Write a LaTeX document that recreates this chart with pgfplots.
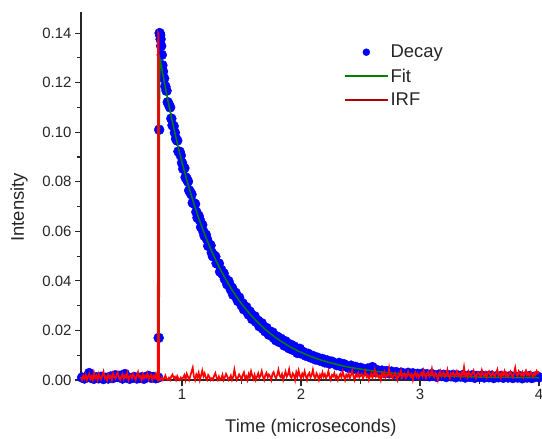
\documentclass[border=0pt]{standalone}
\usepackage{fontspec}
\setmainfont{Liberation Sans}
\usepackage{pgfplots}
\usepackage{pgfplotstable}
\pgfplotsset{compat=1.18}

\pgfplotstableread{
t y
0.16 0.0010
0.18 0.0006
0.20 0.0012
0.22 0.0028
0.24 0.0008
0.26 0.0005
0.28 0.0011
0.30 0.0007
0.32 0.0013
0.34 0.0004
0.36 0.0009
0.38 0.0006
0.40 0.0014
0.42 0.0008
0.44 0.0019
0.46 0.0012
0.48 0.0017
0.50 0.0006
0.52 0.0024
0.54 0.0010
0.56 0.0005
0.58 0.0009
0.60 0.0012
0.62 0.0006
0.64 0.0008
0.66 0.0011
0.68 0.0005
0.70 0.0013
0.72 0.0016
0.74 0.0009
0.76 0.0012
0.78 0.0007
0.800 0.0010
0.804 0.0170
0.808 0.1010
0.812 0.1400
0.816 0.1392
0.820 0.1375
0.825 0.1348
0.830 0.1312
0.835 0.1270
0.84 0.1245
0.85 0.1217
0.86 0.1185
0.87 0.1167
0.88 0.1121
0.89 0.1111
0.90 0.1100
0.91 0.1055
0.92 0.1028
0.93 0.1024
0.94 0.0998
0.95 0.0973
0.96 0.0966
0.97 0.0922
0.98 0.0921
0.99 0.0906
1.00 0.0876
1.01 0.0852
1.02 0.0855
1.03 0.0818
1.04 0.0811
1.05 0.0801
1.06 0.0765
1.07 0.0757
1.08 0.0749
1.09 0.0715
1.10 0.0713
1.11 0.0710
1.12 0.0678
1.13 0.0655
1.14 0.0662
1.15 0.0645
1.16 0.0617
1.17 0.0626
1.18 0.0598
1.19 0.0581
1.20 0.0586
1.21 0.0568
1.22 0.0541
1.23 0.0547
1.24 0.0543
1.25 0.0514
1.26 0.0499
1.27 0.0502
1.28 0.0498
1.29 0.0471
1.30 0.0469
1.31 0.0470
1.32 0.0437
1.33 0.0444
1.34 0.0428
1.35 0.0430
1.36 0.0407
1.37 0.0406
1.38 0.0386
1.39 0.0399
1.40 0.0384
1.41 0.0365
1.42 0.0372
1.43 0.0344
1.44 0.0352
1.45 0.0352
1.46 0.0331
1.47 0.0319
1.48 0.0333
1.49 0.0315
1.50 0.0302
1.51 0.0309
1.52 0.0285
1.53 0.0295
1.54 0.0294
1.55 0.0275
1.56 0.0264
1.57 0.0276
1.58 0.0263
1.59 0.0246
1.60 0.0257
1.61 0.0257
1.62 0.0236
1.63 0.0234
1.64 0.0239
1.65 0.0217
1.66 0.0226
1.67 0.0229
1.68 0.0207
1.69 0.0209
1.70 0.0196
1.71 0.0210
1.72 0.0199
1.73 0.0183
1.74 0.0195
1.75 0.0182
1.76 0.0192
1.77 0.0171
1.78 0.0177
1.79 0.0160
1.80 0.0175
1.81 0.0165
1.82 0.0153
1.83 0.0167
1.84 0.0150
1.85 0.0156
1.86 0.0139
1.87 0.0156
1.88 0.0139
1.89 0.0145
1.90 0.0128
1.91 0.0143
1.92 0.0132
1.93 0.0122
1.94 0.0136
1.95 0.0119
1.96 0.0128
1.97 0.0109
1.98 0.0121
1.99 0.0126
2.00 0.0107
2.02 0.0113
2.04 0.0098
2.06 0.0106
2.08 0.0091
2.10 0.0097
2.12 0.0083
2.14 0.0090
2.16 0.0078
2.18 0.0085
2.20 0.0071
2.22 0.0079
2.24 0.0066
2.26 0.0074
2.28 0.0068
2.30 0.0060
2.32 0.0069
2.34 0.0055
2.36 0.0064
2.38 0.0057
2.40 0.0049
2.42 0.0058
2.44 0.0046
2.46 0.0053
2.48 0.0041
2.50 0.0049
2.52 0.0045
2.54 0.0038
2.56 0.0046
2.58 0.0035
2.60 0.0052
2.62 0.0033
2.64 0.0040
2.66 0.0031
2.68 0.0038
2.70 0.0029
2.72 0.0036
2.74 0.0027
2.76 0.0034
2.78 0.0025
2.80 0.0032
2.82 0.0023
2.84 0.0030
2.86 0.0026
2.88 0.0020
2.90 0.0029
2.92 0.0021
2.94 0.0027
2.96 0.0018
2.98 0.0025
3.00 0.0020
3.02 0.0026
3.04 0.0017
3.06 0.0023
3.08 0.0015
3.10 0.0024
3.12 0.0018
3.14 0.0013
3.16 0.0022
3.18 0.0016
3.20 0.0021
3.22 0.0012
3.24 0.0019
3.26 0.0015
3.28 0.0021
3.30 0.0011
3.32 0.0018
3.34 0.0014
3.36 0.0020
3.38 0.0010
3.40 0.0017
3.42 0.0013
3.44 0.0019
3.46 0.0009
3.48 0.0016
3.50 0.0012
3.52 0.0018
3.54 0.0010
3.56 0.0015
3.58 0.0011
3.60 0.0017
3.62 0.0008
3.64 0.0014
3.66 0.0011
3.68 0.0016
3.70 0.0009
3.72 0.0014
3.74 0.0010
3.76 0.0016
3.78 0.0008
3.80 0.0013
3.82 0.0010
3.84 0.0015
3.86 0.0007
3.88 0.0013
3.90 0.0010
3.92 0.0016
3.94 0.0008
3.96 0.0012
3.98 0.0015
4.00 0.0011
}\decaytable

\pgfplotstableread{
t y
0.790 0.0008
0.808 0.0008
0.810 0.1100
0.814 0.1295
0.82 0.1284
0.84 0.1231
0.86 0.1180
0.88 0.1131
0.90 0.1085
0.92 0.1040
0.94 0.0997
0.96 0.0956
0.98 0.0916
1.00 0.0878
1.02 0.0842
1.04 0.0807
1.06 0.0774
1.08 0.0742
1.10 0.0711
1.12 0.0682
1.14 0.0654
1.16 0.0627
1.18 0.0601
1.20 0.0577
1.22 0.0553
1.24 0.0530
1.26 0.0508
1.28 0.0488
1.30 0.0468
1.32 0.0448
1.34 0.0430
1.36 0.0413
1.38 0.0396
1.40 0.0380
1.42 0.0364
1.44 0.0349
1.46 0.0335
1.48 0.0321
1.50 0.0308
1.52 0.0296
1.54 0.0284
1.56 0.0272
1.58 0.0261
1.60 0.0251
1.62 0.0241
1.64 0.0231
1.66 0.0222
1.68 0.0213
1.70 0.0204
1.72 0.0196
1.74 0.0188
1.76 0.0181
1.78 0.0173
1.80 0.0167
1.82 0.0160
1.84 0.0154
1.86 0.0148
1.88 0.0142
1.90 0.0136
1.92 0.0131
1.94 0.0126
1.96 0.0121
1.98 0.0116
2.00 0.0112
2.05 0.0101
2.10 0.0092
2.15 0.0083
2.20 0.0076
2.25 0.0069
2.30 0.0063
2.35 0.0057
2.40 0.0052
2.45 0.0048
2.50 0.0044
2.60 0.0037
2.70 0.0031
2.80 0.0027
2.90 0.0023
3.00 0.0020
3.20 0.0016
3.40 0.0013
3.60 0.0011
3.80 0.0010
4.00 0.0009
}\fitdata

\pgfplotstableread{
t y
0.15 0.0011
0.16 0.0000
0.17 0.0017
0.18 0.0006
0.19 0.0021
0.20 0.0000
0.21 0.0013
0.22 0.0025
0.23 0.0004
0.24 0.0015
0.25 0.0000
0.26 0.0029
0.27 0.0008
0.28 0.0018
0.29 0.0000
0.30 0.0024
0.31 0.0011
0.32 0.0003
0.33 0.0020
0.34 0.0034
0.35 0.0007
0.36 0.0014
0.37 0.0000
0.38 0.0022
0.39 0.0010
0.40 0.0017
0.41 0.0000
0.42 0.0027
0.43 0.0013
0.44 0.0006
0.45 0.0021
0.46 0.0031
0.47 0.0008
0.48 0.0000
0.49 0.0015
0.50 0.0024
0.51 0.0004
0.52 0.0018
0.53 0.0011
0.54 0.0028
0.55 0.0000
0.56 0.0014
0.57 0.0020
0.58 0.0007
0.59 0.0025
0.60 0.0013
0.61 0.0000
0.62 0.0017
0.63 0.0032
0.64 0.0010
0.65 0.0015
0.66 0.0000
0.67 0.0022
0.68 0.0006
0.69 0.0018
0.70 0.0011
0.71 0.0027
0.72 0.0003
0.73 0.0014
0.74 0.0021
0.75 0.0000
0.76 0.0017
0.77 0.0008
0.78 0.0024
0.79 0.0004
0.796 0.0000
0.799 0.1400
0.803 0.1395
0.806 0.0000
0.81 0.0000
0.82 0.0000
0.83 0.0011
0.84 0.0000
0.85 0.0006
0.86 0.0018
0.87 0.0004
0.88 0.0000
0.89 0.0009
0.90 0.0000
0.91 0.0015
0.92 0.0022
0.93 0.0008
0.94 0.0013
0.95 0.0000
0.96 0.0016
0.97 0.0005
0.98 0.0000
0.99 0.0010
1.00 0.0003
1.01 0.0010
1.02 0.0020
1.03 0.0000
1.04 0.0025
1.05 0.0013
1.06 0.0000
1.07 0.0017
1.08 0.0034
1.09 0.0050
1.10 0.0014
1.11 0.0000
1.12 0.0022
1.13 0.0011
1.14 0.0029
1.15 0.0000
1.16 0.0018
1.17 0.0038
1.18 0.0015
1.19 0.0027
1.20 0.0008
1.21 0.0000
1.22 0.0020
1.23 0.0013
1.24 0.0000
1.25 0.0007
1.26 0.0000
1.27 0.0017
1.28 0.0028
1.29 0.0010
1.30 0.0000
1.31 0.0014
1.32 0.0000
1.33 0.0006
1.34 0.0021
1.35 0.0000
1.36 0.0011
1.37 0.0025
1.38 0.0015
1.39 0.0000
1.40 0.0008
1.41 0.0018
1.42 0.0000
1.43 0.0013
1.44 0.0042
1.45 0.0017
1.46 0.0000
1.47 0.0010
1.48 0.0022
1.49 0.0014
1.50 0.0000
1.51 0.0020
1.52 0.0031
1.53 0.0007
1.54 0.0015
1.55 0.0000
1.56 0.0024
1.57 0.0011
1.58 0.0035
1.59 0.0017
1.60 0.0004
1.61 0.0021
1.62 0.0000
1.63 0.0014
1.64 0.0027
1.65 0.0008
1.66 0.0018
1.67 0.0036
1.68 0.0013
1.69 0.0000
1.70 0.0020
1.71 0.0029
1.72 0.0010
1.73 0.0022
1.74 0.0015
1.75 0.0000
1.76 0.0025
1.77 0.0032
1.78 0.0014
1.79 0.0007
1.80 0.0021
1.81 0.0041
1.82 0.0017
1.83 0.0011
1.84 0.0024
1.85 0.0000
1.86 0.0018
1.87 0.0034
1.88 0.0013
1.89 0.0022
1.90 0.0043
1.91 0.0015
1.92 0.0008
1.93 0.0027
1.94 0.0020
1.95 0.0000
1.96 0.0031
1.97 0.0014
1.98 0.0038
1.99 0.0018
2.00 0.0007
2.01 0.0025
2.02 0.0013
2.03 0.0035
2.04 0.0017
2.05 0.0000
2.06 0.0022
2.07 0.0029
2.08 0.0010
2.09 0.0020
2.10 0.0042
2.11 0.0015
2.12 0.0006
2.13 0.0027
2.14 0.0018
2.15 0.0000
2.16 0.0021
2.17 0.0011
2.18 0.0031
2.19 0.0014
2.20 0.0024
2.21 0.0007
2.22 0.0017
2.23 0.0036
2.24 0.0013
2.25 0.0000
2.26 0.0020
2.27 0.0015
2.28 0.0028
2.29 0.0008
2.30 0.0018
2.31 0.0000
2.32 0.0014
2.33 0.0024
2.34 0.0011
2.35 0.0034
2.36 0.0017
2.37 0.0000
2.38 0.0021
2.39 0.0013
2.40 0.0027
2.41 0.0007
2.42 0.0020
2.43 0.0039
2.44 0.0015
2.45 0.0000
2.46 0.0022
2.47 0.0014
2.48 0.0029
2.49 0.0010
2.50 0.0018
2.51 0.0025
2.52 0.0006
2.53 0.0017
2.54 0.0035
2.55 0.0013
2.56 0.0021
2.57 0.0000
2.58 0.0015
2.59 0.0028
2.60 0.0008
2.61 0.0020
2.62 0.0042
2.63 0.0014
2.64 0.0024
2.65 0.0011
2.66 0.0018
2.67 0.0000
2.68 0.0027
2.69 0.0015
2.70 0.0032
2.71 0.0010
2.72 0.0021
2.73 0.0017
2.74 0.0048
2.75 0.0013
2.76 0.0022
2.77 0.0007
2.78 0.0018
2.79 0.0029
2.80 0.0014
2.81 0.0000
2.82 0.0025
2.83 0.0017
2.84 0.0036
2.85 0.0011
2.86 0.0020
2.87 0.0027
2.88 0.0008
2.89 0.0015
2.90 0.0034
2.91 0.0018
2.92 0.0013
2.93 0.0024
2.94 0.0000
2.95 0.0021
2.96 0.0031
2.97 0.0014
2.98 0.0025
2.99 0.0010
3.00 0.0020
3.01 0.0028
3.02 0.0015
3.03 0.0038
3.04 0.0020
3.05 0.0008
3.06 0.0027
3.07 0.0034
3.08 0.0014
3.09 0.0022
3.10 0.0045
3.11 0.0018
3.12 0.0011
3.13 0.0029
3.14 0.0021
3.15 0.0000
3.16 0.0025
3.17 0.0036
3.18 0.0015
3.19 0.0024
3.20 0.0032
3.21 0.0013
3.22 0.0020
3.23 0.0041
3.24 0.0017
3.25 0.0007
3.26 0.0027
3.27 0.0022
3.28 0.0031
3.29 0.0014
3.30 0.0021
3.31 0.0035
3.32 0.0018
3.33 0.0025
3.34 0.0011
3.35 0.0029
3.36 0.0020
3.37 0.0052
3.38 0.0017
3.39 0.0027
3.40 0.0013
3.41 0.0034
3.42 0.0022
3.43 0.0015
3.44 0.0028
3.45 0.0038
3.46 0.0018
3.47 0.0008
3.48 0.0025
3.49 0.0031
3.50 0.0021
3.51 0.0014
3.52 0.0039
3.53 0.0024
3.54 0.0017
3.55 0.0029
3.56 0.0011
3.57 0.0027
3.58 0.0035
3.59 0.0020
3.60 0.0015
3.61 0.0032
3.62 0.0022
3.63 0.0013
3.64 0.0028
3.65 0.0042
3.66 0.0018
3.67 0.0025
3.68 0.0010
3.69 0.0031
3.70 0.0021
3.71 0.0036
3.72 0.0017
3.73 0.0027
3.74 0.0014
3.75 0.0024
3.76 0.0034
3.77 0.0020
3.78 0.0011
3.79 0.0029
3.80 0.0050
3.81 0.0022
3.82 0.0015
3.83 0.0035
3.84 0.0025
3.85 0.0018
3.86 0.0031
3.87 0.0013
3.88 0.0027
3.89 0.0038
3.90 0.0020
3.91 0.0028
3.92 0.0017
3.93 0.0032
3.94 0.0024
3.95 0.0014
3.96 0.0029
3.97 0.0021
3.98 0.0036
3.99 0.0027
4.00 0.0034
}\irfdata

\begin{document}
\begin{tikzpicture}
\useasboundingbox (0,0) rectangle (542bp,439bp);
\begin{axis}[
  at={(81bp,59bp)}, anchor=south west,
  scale only axis, width=458bp, height=368bp,
  xmin=0.151, xmax=4, ymin=0, ymax=0.1485,
  clip=false, clip marker paths=true,
  axis x line*=bottom, axis y line*=left,
  axis line style={-, line width=1.1bp, black!85},
  xtick={1,2,3,4}, minor xtick={0.5,1.5,2.5,3.5},
  ytick={0,0.02,0.04,0.06,0.08,0.1,0.12,0.14},
  minor ytick={0.01,0.03,0.05,0.07,0.09,0.11,0.13},
  tick align=outside, major tick length=6bp, minor tick length=4bp,
  every tick/.style={line width=1.1bp, black!85},
  yticklabel style={/pgf/number format/.cd, fixed, fixed zerofill, precision=2},
  /pgf/number format/assume math mode=true,
  ticklabel style={font=\fontsize{15}{17}\selectfont, text=black!85},
  xlabel={Time (microseconds)}, ylabel={Intensity},
  every axis x label/.style={at={(axis description cs:0.502,0)}, yshift=-48bp, anchor=center, font=\fontsize{18.5}{21}\selectfont, text=black!85},
  every axis y label/.style={at={(axis description cs:0,0.469)}, xshift=-62bp, rotate=90, anchor=center, font=\fontsize{18.5}{21}\selectfont, text=black!85},
  legend style={at={(0.574,0.916)}, anchor=north west, draw=none, fill=none,
    font=\fontsize{18.5}{21}\selectfont, text=black!85, inner sep=0pt, row sep=5.5bp,
    nodes={inner sep=2bp}},
  legend cell align=left,
]
\addplot[only marks, mark=*, mark size=5bp, draw=blue, fill=blue,
  legend image code/.code={\fill[blue] (21.5bp,0bp) circle (3.5bp);}]
  table[x=t,y=y] {\decaytable};
\addlegendentry{Decay}
\addplot[draw=green!50!black, line width=1.5bp, mark=none,
  legend image code/.code={\draw[green!50!black, line width=1.5bp] (0bp,0bp) -- (43bp,0bp);}]
  table[x=t,y=y] {\fitdata};
\addlegendentry{Fit}
\addplot[draw=red, line width=1.7bp, mark=none, line join=miter,
  legend image code/.code={\draw[red!70!black, line width=1.5bp] (0bp,0bp) -- (43bp,0bp);}]
  table[x=t,y=y] {\irfdata};
\addlegendentry{IRF}
\end{axis}
\end{tikzpicture}
\end{document}
